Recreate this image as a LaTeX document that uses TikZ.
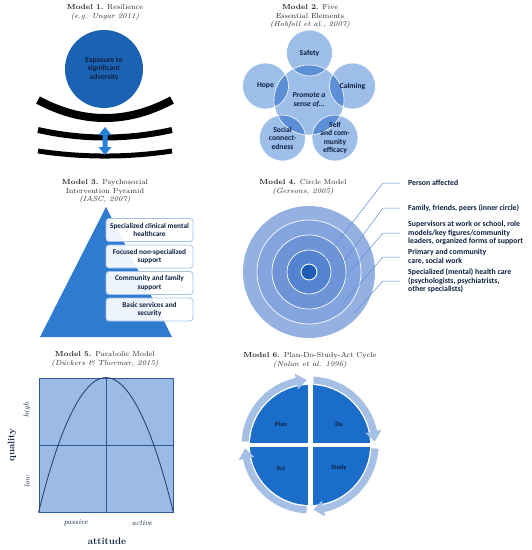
\documentclass[tikz,border=0pt]{standalone}
\usepackage{fontspec}
\newfontfamily\carl{Carlito}
\usetikzlibrary{calc}
\definecolor{navy}{HTML}{0E2142}
\definecolor{ttl}{HTML}{2A2A2A}
\definecolor{mOne}{HTML}{1C62B2}
\definecolor{arrb}{HTML}{2680D9}
\definecolor{mTwoL}{HTML}{9DBEE8}
\definecolor{mTwoD}{HTML}{5C8FD6}
\definecolor{tri}{HTML}{2E7BCF}
\definecolor{boxb}{HTML}{A4C4EA}
\definecolor{rA}{HTML}{94B1E2}
\definecolor{rB}{HTML}{83A4DE}
\definecolor{rC}{HTML}{6E93D7}
\definecolor{rD}{HTML}{5483CF}
\definecolor{rE}{HTML}{1F5DB7}
\definecolor{lead}{HTML}{5B8FD8}
\definecolor{mFiveF}{HTML}{9BBBE6}
\definecolor{mFiveB}{HTML}{2E5A99}
\definecolor{curve}{HTML}{1F3A68}
\definecolor{quad}{HTML}{1B6DCA}
\definecolor{ringc}{HTML}{A6BFE5}
\tikzset{
  title/.style={align=center,font=\fontsize{7.3}{8.6}\selectfont,text=ttl,inner sep=0},
  sanslbl/.style={align=center,font=\carl\bfseries\fontsize{7.6}{8.6}\selectfont,text=navy,inner sep=0},
  circtwo/.style={circle,draw=white,line width=0.6pt,inner sep=0,sanslbl},
  pyrbox/.style={rectangle,rounded corners=3pt,draw=boxb,line width=0.8pt,fill=white,fill opacity=0.92,text opacity=1,minimum width=87pt,minimum height=23pt,inner sep=0,align=center,font=\carl\bfseries\fontsize{7.3}{8.2}\selectfont,text=navy},
  rlbl/.style={anchor=west,align=left,inner sep=0,font=\carl\bfseries\fontsize{7.8}{8.6}\selectfont,text=navy},
  leader/.style={draw=lead,line width=0.5pt},
  qlbl/.style={inner sep=0,font=\carl\bfseries\fontsize{6.4}{7.5}\selectfont,text=navy},
  slbl/.style={inner sep=0,font=\fontsize{7.5}{9}\selectfont\itshape,text=navy},
}
\begin{document}
\begin{tikzpicture}[x=1pt,y=-1pt]
\useasboundingbox[fill=white] (0,0) rectangle (532,550);

% ---------- Model 1 ----------
\node[title] (t1) at (105,12.5) {\textbf{Model 1.} Resilience\\\itshape (e.g. Ungar 2011)};
\node[circle,fill=mOne,minimum size=78pt,inner sep=0,sanslbl] (expo) at (104,69) {Exposure to\\significant\\adversity};
\draw[line width=8pt] (38,100) .. controls (82.7,124) and (127.3,124) .. (172,100);
\draw[line width=6pt] (38,130) .. controls (82.7,140) and (127.3,140) .. (172,130);
\draw[line width=5pt] (38,151) .. controls (82.7,157.7) and (127.3,157.7) .. (172,151);
\fill[arrb] (105,127) -- (111.5,135) -- (107.5,135) -- (107.5,147) -- (111.5,147) -- (105,155)
  -- (98.5,147) -- (102.5,147) -- (102.5,135) -- (98.5,135) -- cycle;

% ---------- Model 2 ----------
\node[title] (t2) at (310,16.5) {\textbf{Model 2.} Five\\Essential Elements\\\itshape (Hobfoll et al., 2007)};
\coordinate (cc) at (309,100);
\coordinate (cS) at (309.5,53);
\coordinate (cH) at (265.5,86);
\coordinate (cC) at (352.5,86);
\coordinate (cO) at (282.5,138);
\coordinate (cE) at (335,138);
\fill[mTwoL] (cc) circle[radius=35pt];
\foreach \p in {cS,cH,cC,cO,cE} \fill[mTwoL] (\p) circle[radius=23pt];
\begin{scope}
  \clip (cc) circle[radius=35pt];
  \foreach \p in {cS,cH,cC,cO,cE} \fill[mTwoD] (\p) circle[radius=23pt];
\end{scope}
\node[circtwo,minimum size=70pt,font=\carl\bfseries\itshape\fontsize{7.6}{8.6}\selectfont] (prom) at (cc) {Promote a\\sense of\dots};
\node[circtwo,minimum size=46pt] (safety) at (cS) {Safety};
\node[circtwo,minimum size=46pt] (hope) at (cH) {Hope};
\node[circtwo,minimum size=46pt] (calm) at (cC) {Calming};
\node[circtwo,minimum size=46pt] (soc) at (cO) {Social\\connect-\\edness};
\node[circtwo,minimum size=46pt] (self) at (cE) {Self\\and com-\\munity\\efficacy};

% ---------- Model 3 ----------
\node[title] (t3) at (105,191.5) {\textbf{Model 3.} Psychosocial\\Intervention Pyramid\\\itshape (IASC, 2007)};
\fill[tri] (106,207) -- (172,337) -- (40,337) -- cycle;
\node[pyrbox] (b1) at (149.5,230) {Specialized clinical mental\\healthcare};
\node[pyrbox] (b2) at (149.5,256.5) {Focused non-specialized\\support};
\node[pyrbox] (b3) at (149.5,283) {Community and family\\support};
\node[pyrbox] (b4) at (149.5,309.5) {Basic services and\\security};

% ---------- Model 4 ----------
\node[title] (t4) at (303,187.5) {\textbf{Model 4.} Circle Model\\\itshape (Gersons, 2005)};
\coordinate (c4) at (309,272);
\fill[rA] (c4) circle[radius=66pt];
\draw[white,line width=0.7pt,fill=rB] (c4) circle[radius=52pt];
\draw[white,line width=0.7pt,fill=rC] (c4) circle[radius=37pt];
\draw[white,line width=0.7pt,fill=rD] (c4) circle[radius=22pt];
\draw[white,line width=0.9pt,fill=rE] (c4) circle[radius=8pt];
\node[rlbl] (l1) at (408,183) {Person affected};
\node[rlbl] (l2) at (408,208) {Family, friends, peers (inner circle)};
\node[rlbl] (l3) at (408,233) {Supervisors at work or school, role\\models/key figures/community\\leaders, organized forms of support};
\node[rlbl] (l4) at (408,257) {Primary and community\\care, social work};
\node[rlbl] (l5) at (408,281) {Specialized (mental) health care\\(psychologists, psychiatrists,\\other specialists)};
\coordinate (p1) at (322,262);
\coordinate (p2) at (330,280);
\coordinate (p3) at (332,292);
\coordinate (p4) at (344,302);
\coordinate (p5) at (354,313);
\foreach \i in {1,...,5} {
  \draw[leader,shorten >=8pt] (p\i) -- (l\i.west -| 383,0) -- (l\i.west);
}

% ---------- Model 5 ----------
\node[title] (t5) at (105,359.5) {\textbf{Model 5.} Parabolic Model\\\itshape (D\"uckers \& Thormar, 2015)};
\node[draw=mFiveB,fill=mFiveF,line width=0.9pt,minimum width=134pt,minimum height=134pt,inner sep=0] (plot) at (106,445) {};
\draw[mFiveB,line width=0.6pt] (plot.north) -- (plot.south);
\draw[mFiveB,line width=0.6pt] (plot.west) -- (plot.east);
\draw[curve,line width=0.8pt] (plot.south west) parabola bend (plot.north) (plot.south east);
\node[slbl,rotate=90] (hi) at (27,410) {high};
\node[slbl,rotate=90] (lo) at (27,482) {low};
\node[inner sep=0,rotate=90,font=\fontsize{9.5}{11}\selectfont\bfseries,text=navy] (qual) at (12,445) {quality};
\node[slbl] (pas) at (76,523) {passive};
\node[slbl] (act) at (142,523) {active};
\node[inner sep=0,font=\fontsize{9.5}{11}\selectfont\bfseries,text=navy] (att) at (107,541) {attitude};

% ---------- Model 6 ----------
\node[title] (t6) at (310,360) {\textbf{Model 6.} Plan-Do-Study-Act Cycle\\\itshape (Nolan et al. 1996)};
\coordinate (c6) at (310,445);
\begin{scope}[shift={(c6)}]
  \fill[quad] (0,0) circle[radius=60pt];
  \fill[white] (-2.5pt,-62pt) rectangle (2.5pt,62pt);
  \fill[white] (-62pt,-2pt) rectangle (62pt,2pt);
  \foreach \a/\b in {177/93, 87/3, -3/-87, 267/183} {
    \pgfmathsetmacro{\h}{\b+9}
    \fill[ringc] (\a:61.5pt) arc[start angle=\a,end angle=\h,radius=61.5pt]
      -- (\h:57pt) -- (\b:65pt) -- (\h:73pt) -- (\h:68.5pt)
      arc[start angle=\h,end angle=\a,radius=68.5pt] -- cycle;
  }
\end{scope}
\node[qlbl] (plan) at (281,424) {Plan};
\node[qlbl] (do) at (339,424) {Do};
\node[qlbl] (actq) at (281,468) {Act};
\node[qlbl] (study) at (339,468) {Study};
\end{tikzpicture}
\end{document}
